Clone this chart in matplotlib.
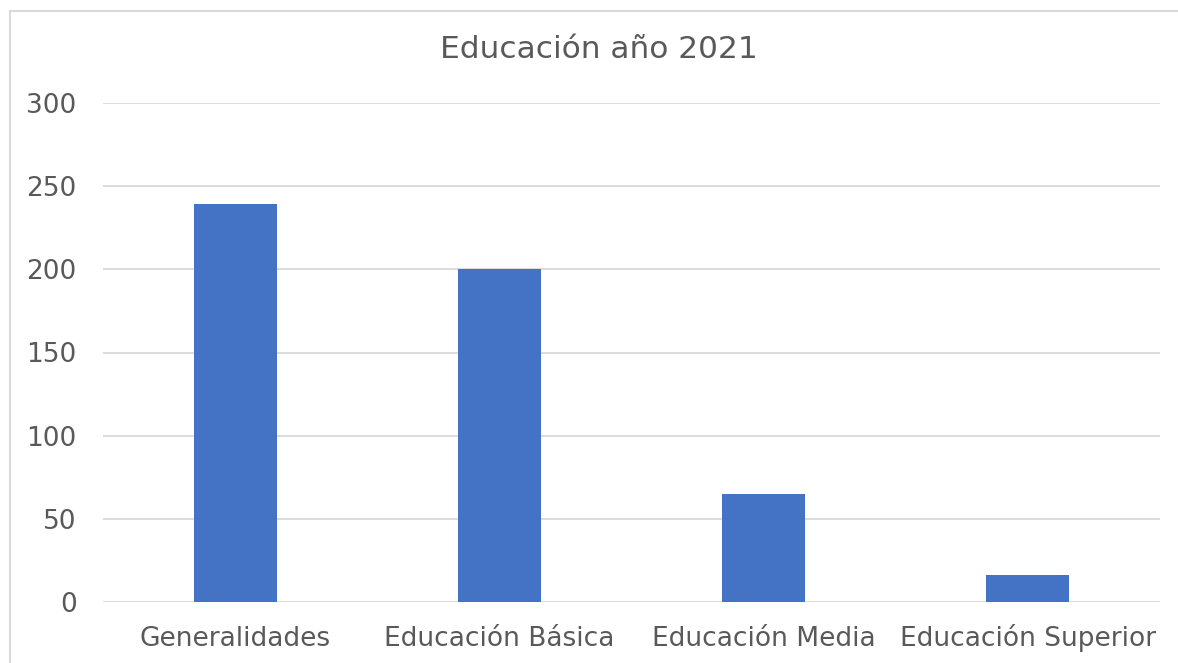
import numpy as np
import matplotlib.pyplot as plt
from matplotlib.lines import Line2D

# data
categories = ['Generalidades', 'Educación Básica', 'Educación Media', 'Educación Superior']
values = [239, 200, 65, 16]
yticks = [0, 50, 100, 150, 200, 250, 300]
title = 'Educación año 2021'

txt = '#595959'
grid = '#D9D9D9'
bar_col = '#4472C4'

plt.rcParams['font.family'] = ['DejaVu Sans']

fig = plt.figure(figsize=(11.78, 6.63), dpi=100)
ax = fig.add_axes([103/1178, 1-602/663, 1057/1178, 499/663])

x = np.arange(len(categories))
ax.bar(x, values, width=0.314, color=bar_col, zorder=3)

ax.set_xlim(-0.5, len(categories)-0.5)
ax.set_ylim(0, 300)
ax.set_yticks(yticks)
ax.set_xticks(x)
ax.set_xticklabels(categories)
ax.tick_params(axis='both', length=0, labelsize=19, labelcolor=txt)
ax.tick_params(axis='y', pad=19)
ax.tick_params(axis='x', pad=31.5)
for lbl in ax.get_xticklabels():
    lbl.set_va('baseline')
ax.yaxis.grid(True, color=grid, linewidth=1.3, zorder=0)
for s in ax.spines.values():
    s.set_visible(False)

fig.text(599/1178, 1-50/663, title, ha='center', va='center', fontsize=22.5, color=txt)

# chart border, only left and top edges are visible in the crop
fx, fy = 9.5/1178, 1-10.5/663
fig.lines.append(Line2D([fx, fx], [0, fy], transform=fig.transFigure, color=grid, linewidth=1.5))
fig.lines.append(Line2D([fx, 1], [fy, fy], transform=fig.transFigure, color=grid, linewidth=1.5))

fig.savefig('out.png', dpi=100)
